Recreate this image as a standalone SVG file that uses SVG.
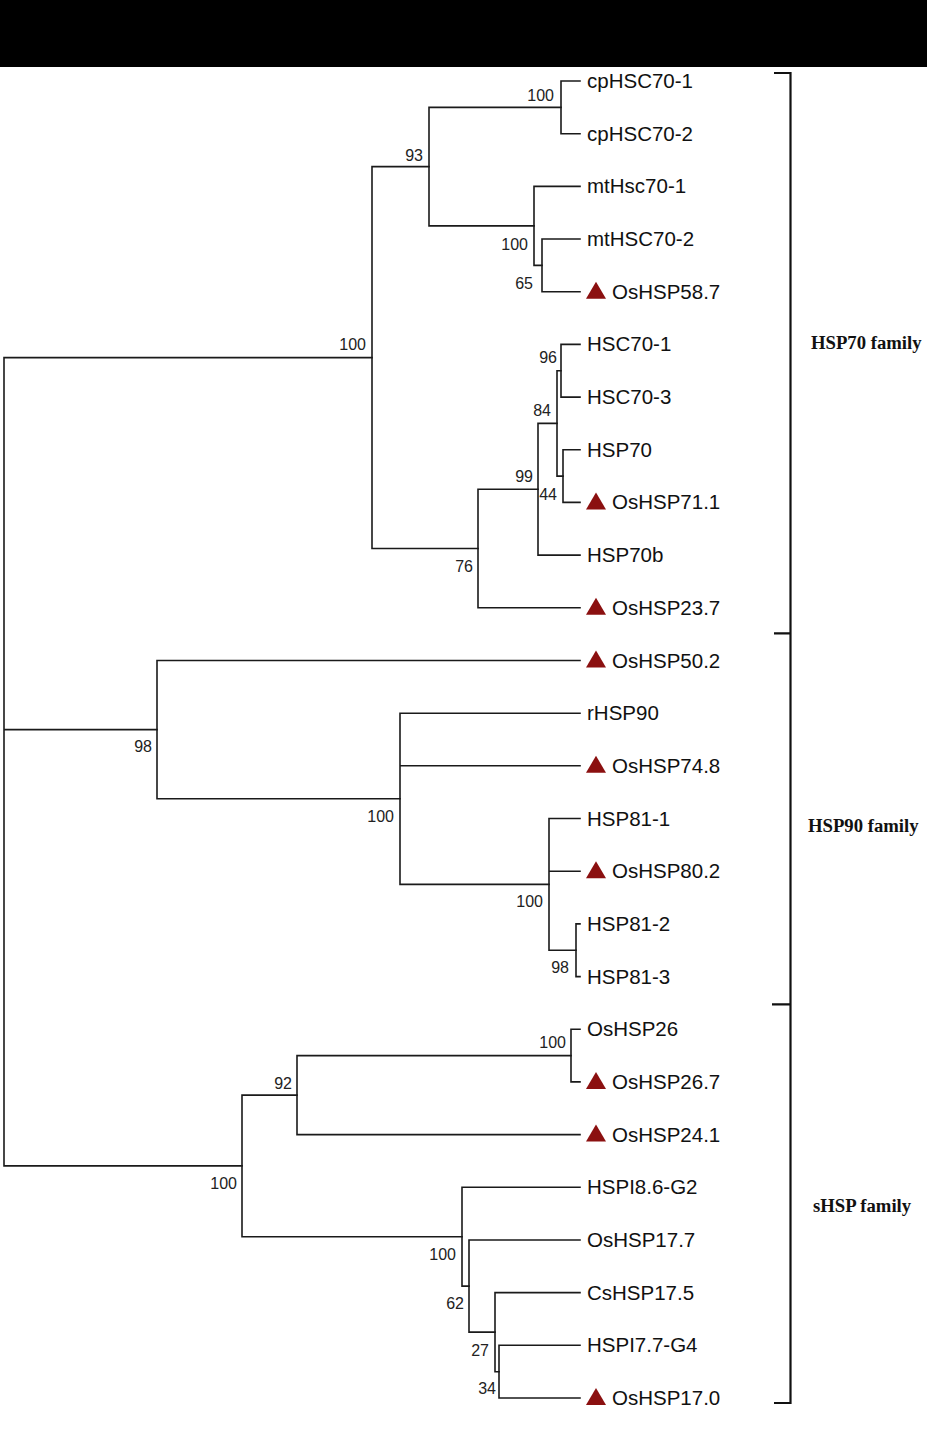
<svg xmlns="http://www.w3.org/2000/svg" width="927" height="1436" viewBox="0 0 927 1436">
<style>
.br{fill:none;stroke:#1a1a1a;stroke-width:1.6;stroke-linecap:square}
.bk{fill:none;stroke:#111;stroke-width:2.2}
.lf{font-family:"Liberation Sans",Arial,sans-serif;font-size:20.5px;fill:#111}
.bs{font-family:"Liberation Sans",Arial,sans-serif;font-size:16px;fill:#222;text-anchor:end}
.fam{font-family:"Liberation Serif","Times New Roman",serif;font-size:18.7px;font-weight:bold;fill:#111}
.tri{fill:#8b1010}
</style>
<defs>
<path id="t" class="tri" d="M-10,7 L10,7 L0,-10 Z"/>
</defs>
<rect x="0" y="0" width="927" height="67" fill="#000"/>
<rect x="0" y="67" width="927" height="1369" fill="#fff"/>

<g id="connectors">
<path class="br" d="M4,357.6V1165.9M4,357.6H372M4,729.6H157M4,1165.9H242"/>
<path class="br" d="M372,166.6V548.5M372,166.6H429M372,548.5H478"/>
<path class="br" d="M429,107.4V225.9M429,107.4H561M429,225.9H534"/>
<path class="br" d="M561,81V133.7M561,81H580M561,133.7H580"/>
<path class="br" d="M534,186.4V265.4M534,186.4H580M534,265.4H542"/>
<path class="br" d="M542,239V291.7M542,239H580M542,291.7H580"/>
<path class="br" d="M478,489.3V607.8M478,489.3H538M478,607.8H580"/>
<path class="br" d="M538,423.4V555.1M538,423.4H557M538,555.1H580"/>
<path class="br" d="M557,370.8V476.1M557,370.8H561M557,476.1H563"/>
<path class="br" d="M561,344.4V397.1M561,344.4H580M561,397.1H580"/>
<path class="br" d="M563,449.8V502.4M563,449.8H580M563,502.4H580"/>
<path class="br" d="M157,660.5V798.8M157,660.5H580M157,798.8H400"/>
<path class="br" d="M400,713.2V884.4M400,713.2H580M400,765.8H580M400,884.4H549"/>
<path class="br" d="M549,818.5V950.2M549,818.5H580M549,871.2H580M549,950.2H576"/>
<path class="br" d="M576,923.9V976.6M576,923.9H580M576,976.6H580"/>
<path class="br" d="M242,1095.1V1236.7M242,1095.1H297M242,1236.7H462"/>
<path class="br" d="M297,1055.6V1134.6M297,1055.6H571M297,1134.6H580"/>
<path class="br" d="M571,1029.2V1081.9M571,1029.2H580M571,1081.9H580"/>
<path class="br" d="M462,1187.3V1286.1M462,1187.3H580M462,1286.1H469"/>
<path class="br" d="M469,1240V1332.1M469,1240H580M469,1332.1H495"/>
<path class="br" d="M495,1292.6V1371.7M495,1292.6H580M495,1371.7H499"/>
<path class="br" d="M499,1345.3V1398M499,1345.3H580M499,1398H580"/>
</g>

<g id="bootstrap">
<text class="bs" x="554" y="101">100</text>
<text class="bs" x="423" y="161">93</text>
<text class="bs" x="528" y="250">100</text>
<text class="bs" x="533" y="289">65</text>
<text class="bs" x="366" y="350">100</text>
<text class="bs" x="557" y="363">96</text>
<text class="bs" x="551" y="416">84</text>
<text class="bs" x="533" y="482">99</text>
<text class="bs" x="557" y="500">44</text>
<text class="bs" x="473" y="572">76</text>
<text class="bs" x="152" y="752">98</text>
<text class="bs" x="394" y="822">100</text>
<text class="bs" x="543" y="907">100</text>
<text class="bs" x="569" y="973">98</text>
<text class="bs" x="566" y="1048">100</text>
<text class="bs" x="292" y="1089">92</text>
<text class="bs" x="237" y="1189">100</text>
<text class="bs" x="456" y="1260">100</text>
<text class="bs" x="464" y="1309">62</text>
<text class="bs" x="489" y="1356">27</text>
<text class="bs" x="496" y="1394">34</text>
</g>

<g id="leaf-cpHSC70-1"><text class="lf" x="587" y="88">cpHSC70-1</text></g>
<g id="leaf-cpHSC70-2"><text class="lf" x="587" y="140.7">cpHSC70-2</text></g>
<g id="leaf-mtHsc70-1"><text class="lf" x="587" y="193.4">mtHsc70-1</text></g>
<g id="leaf-mtHSC70-2"><text class="lf" x="587" y="246">mtHSC70-2</text></g>
<g id="leaf-OsHSP58.7"><use href="#t" x="596" y="291.7"/><text class="lf" x="612" y="298.7">OsHSP58.7</text></g>
<g id="leaf-HSC70-1"><text class="lf" x="587" y="351.4">HSC70-1</text></g>
<g id="leaf-HSC70-3"><text class="lf" x="587" y="404.1">HSC70-3</text></g>
<g id="leaf-HSP70"><text class="lf" x="587" y="456.8">HSP70</text></g>
<g id="leaf-OsHSP71.1"><use href="#t" x="596" y="502.4"/><text class="lf" x="612" y="509.4">OsHSP71.1</text></g>
<g id="leaf-HSP70b"><text class="lf" x="587" y="562.1">HSP70b</text></g>
<g id="leaf-OsHSP23.7"><use href="#t" x="596" y="607.8"/><text class="lf" x="612" y="614.8">OsHSP23.7</text></g>
<g id="leaf-OsHSP50.2"><use href="#t" x="596" y="660.5"/><text class="lf" x="612" y="667.5">OsHSP50.2</text></g>
<g id="leaf-rHSP90"><text class="lf" x="587" y="720.2">rHSP90</text></g>
<g id="leaf-OsHSP74.8"><use href="#t" x="596" y="765.8"/><text class="lf" x="612" y="772.8">OsHSP74.8</text></g>
<g id="leaf-HSP81-1"><text class="lf" x="587" y="825.5">HSP81-1</text></g>
<g id="leaf-OsHSP80.2"><use href="#t" x="596" y="871.2"/><text class="lf" x="612" y="878.2">OsHSP80.2</text></g>
<g id="leaf-HSP81-2"><text class="lf" x="587" y="930.9">HSP81-2</text></g>
<g id="leaf-HSP81-3"><text class="lf" x="587" y="983.6">HSP81-3</text></g>
<g id="leaf-OsHSP26"><text class="lf" x="587" y="1036.2">OsHSP26</text></g>
<g id="leaf-OsHSP26.7"><use href="#t" x="596" y="1081.9"/><text class="lf" x="612" y="1088.9">OsHSP26.7</text></g>
<g id="leaf-OsHSP24.1"><use href="#t" x="596" y="1134.6"/><text class="lf" x="612" y="1141.6">OsHSP24.1</text></g>
<g id="leaf-HSPI8.6-G2"><text class="lf" x="587" y="1194.3">HSPI8.6-G2</text></g>
<g id="leaf-OsHSP17.7"><text class="lf" x="587" y="1247">OsHSP17.7</text></g>
<g id="leaf-CsHSP17.5"><text class="lf" x="587" y="1299.6">CsHSP17.5</text></g>
<g id="leaf-HSPI7.7-G4"><text class="lf" x="587" y="1352.3">HSPI7.7-G4</text></g>
<g id="leaf-OsHSP17.0"><use href="#t" x="596" y="1398"/><text class="lf" x="612" y="1405">OsHSP17.0</text></g>

<g id="brackets">
<path class="bk" d="M774,73H790.5V1403H774M774,633.3H790.5M772,1004.3H790.5"/>
</g>
<g id="family-HSP70"><text class="fam" x="811" y="349">HSP70 family</text></g>
<g id="family-HSP90"><text class="fam" x="808" y="832">HSP90 family</text></g>
<g id="family-sHSP"><text class="fam" x="813" y="1212">sHSP family</text></g>
</svg>
